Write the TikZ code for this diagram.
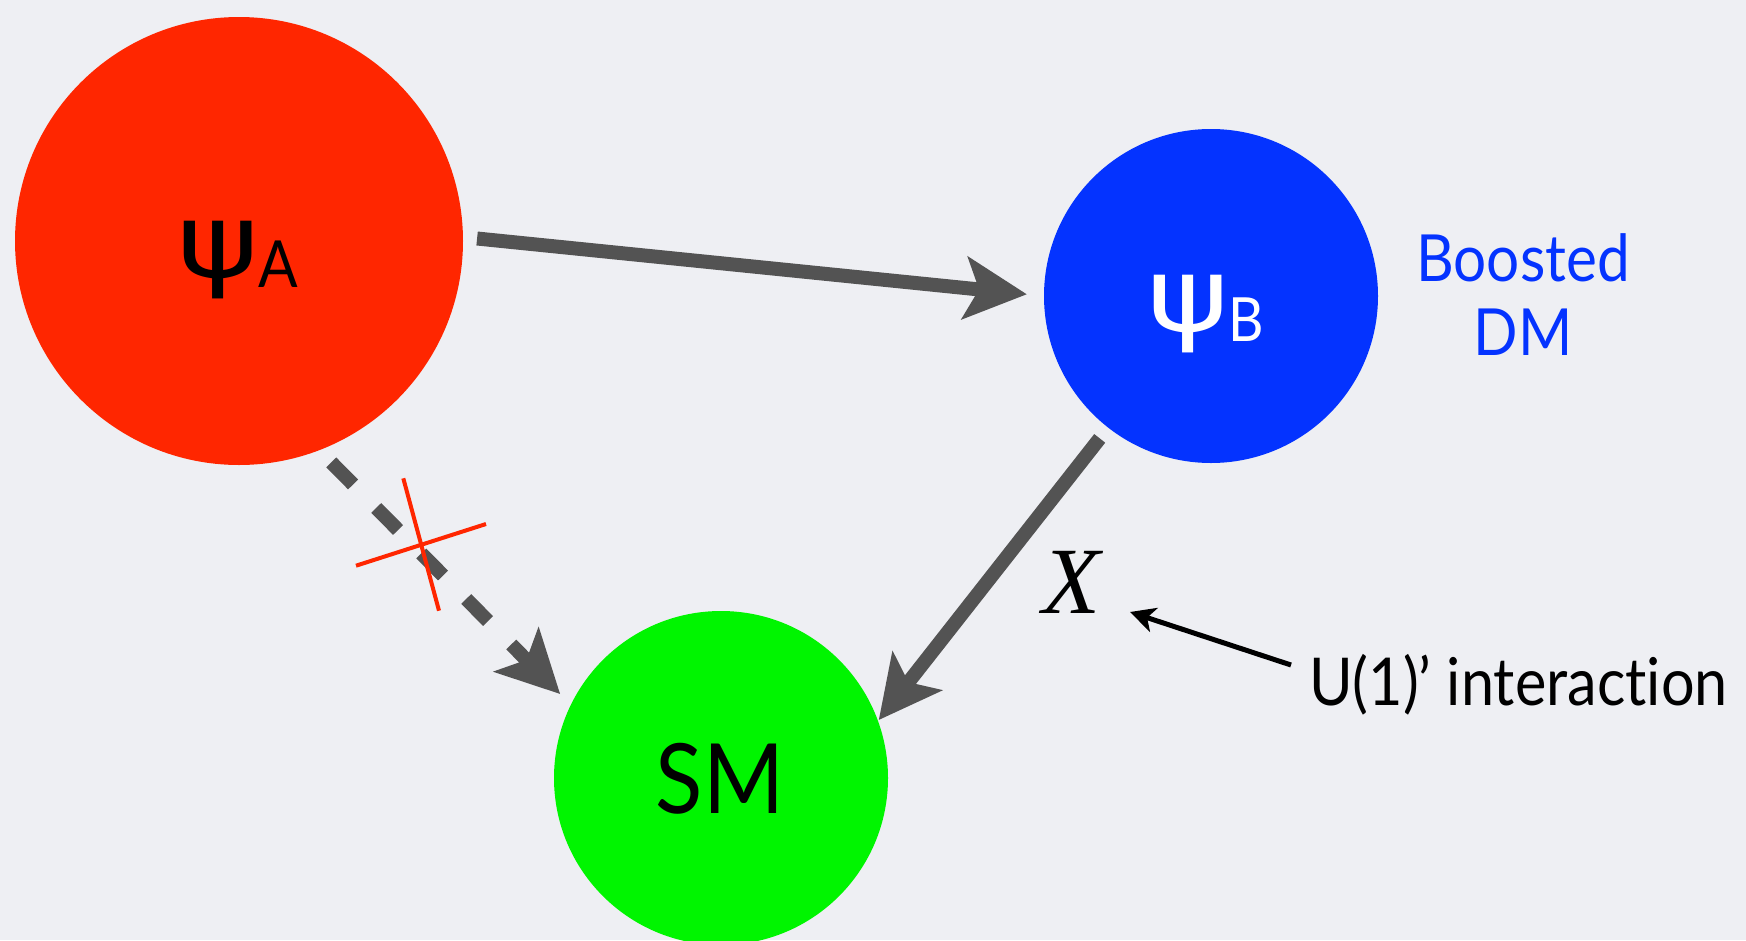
\documentclass[tikz,border=0pt]{standalone}
\usepackage{fontspec}
\setmainfont{Lato}[FakeStretch=0.9, Ligatures={NoCommon,NoContextual}]
\newfontfamily\serifx{Liberation Serif}
\newfontfamily\psifont{DejaVu Sans}
\usetikzlibrary{arrows.meta}
\definecolor{bgcol}{RGB}{238,239,243}
\definecolor{psired}{RGB}{255,38,0}
\definecolor{psiblue}{RGB}{4,51,255}
\definecolor{smgreen}{RGB}{0,245,0}
\definecolor{arrowgray}{RGB}{83,83,83}
\tikzset{
  ball/.style={circle, inner sep=0pt, draw=none},
  bigarrow/.style={draw=arrowgray, line width=14pt, -{Stealth[length=62pt,width=62pt,inset=14pt]}},
  dasharrow/.style={bigarrow, dash pattern=on 31pt off 33pt},
  crossline/.style={draw=psired, line width=4pt},
  thinarrow/.style={draw=black, line width=5pt, -{Stealth[length=25pt,width=25pt,inset=7pt]}},
  lbl/.style={inner sep=0pt, outer sep=0pt}
}
\newcommand{\fs}[1]{\fontsize{#1}{#1}\selectfont}
\newcommand{\bigpsi}{{\psifont\fs{103}\scalebox{1.2}[1]{ψ}}}
\begin{document}
\begin{tikzpicture}[x=1pt,y=-1pt]
\useasboundingbox (0,0) rectangle (1746,940);
\fill[bgcol] (0,0) rectangle (1746,940);
\clip (0,0) rectangle (1746,940);
% circles
\node[ball, fill=psired, minimum size=448pt] (A) at (239,241) {};
\node[ball, fill=psiblue, minimum size=334pt] (B) at (1211,296) {};
\node[ball, fill=smgreen, minimum size=334pt] (SM) at (721,778) {};
% labels
\node[lbl, anchor=base west] (Alab) at (177,277) {\bigpsi\fs{65}\raisebox{-10pt}{A}};
\node[lbl, anchor=base west, text=white] (Blab) at (1147,331) {\bigpsi\fs{61}\raisebox{-10pt}{B}};
\node[lbl, anchor=base] (SMlab) at (720,813) {\fs{97}SM};
\node[lbl, anchor=base, text=psiblue, align=center, font=\fs{65}] (boost) at (1523,355) {Boosted\\[9pt]DM};
\node[lbl, anchor=base] (Xlab) at (1072,613) {\serifx\itshape\fs{95}X};
\node[lbl, anchor=base west] (Ulab) at (1309,705) {\fs{66}U(1)’ interaction};
% arrows
\draw[bigarrow, shorten <=14pt, shorten >=17pt] (A.1.4) -- (B.180);
\draw[bigarrow, shorten <=13.5pt, shorten >=1pt] (B.-128.4) -- (SM.20.9);
\draw[dasharrow, shorten <=17pt, shorten >=15pt] (A.-69.5) -- (SM.154.3);
% cross
\coordinate (c1a) at (403.3,478.3);
\coordinate (c1b) at (439,610.7);
\coordinate (c2a) at (356,565.7);
\coordinate (c2b) at (486,524);
\draw[crossline] (c1a) -- (c1b);
\draw[crossline] (c2a) -- (c2b);
% pointer
\coordinate (ustart) at (1291,665);
\coordinate (xtip) at (1130,612);
\draw[thinarrow] (ustart) -- (xtip);
\end{tikzpicture}
\end{document}
